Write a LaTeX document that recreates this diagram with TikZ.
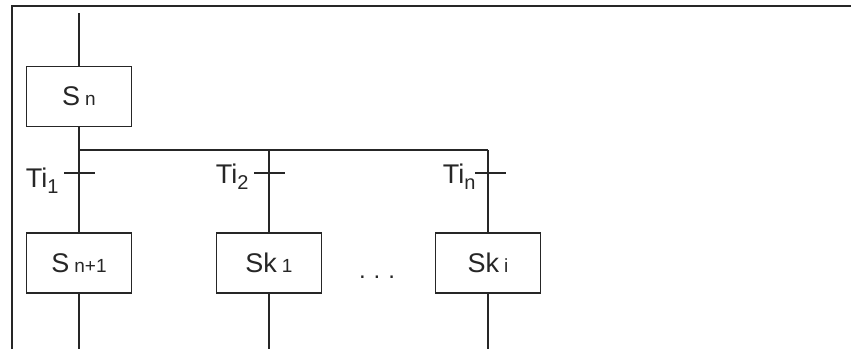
\documentclass[tikz,border=0pt]{standalone}
\usepackage{fontspec}
\setmainfont{Liberation Sans}
\usetikzlibrary{positioning}

% small index after a step name, lowered index after a transition name
\newcommand{\idx}[1]{\hspace{5pt}{\fontsize{19}{19}\selectfont #1}}
\newcommand{\tlow}[1]{\raisebox{-6pt}{\fontsize{20}{20}\selectfont #1}}

\begin{document}
\begin{tikzpicture}[x=1pt, y=-1pt, line width=1.2pt, color=black!85,
    stepbox/.style={draw, minimum width=105pt, minimum height=60pt, inner sep=0pt,
                    font=\fontsize{27}{30}\selectfont},
    trans/.style={font=\fontsize{27}{30}\selectfont, inner sep=0pt, anchor=base east}]
            \useasboundingbox (0,0) rectangle (851,349);
            \draw (12,349) |- (851,6);

            \node[stepbox] (sn)  at (79,96.5) {S\idx{n}};
            \node[stepbox] (sn1) at (79,263)  {S\idx{n+1}};
            \node[stepbox] (sk1) at (269,263) {Sk\idx{1}};
            \node[stepbox] (ski) at (488,263) {Sk\idx{i}};
            \node[font=\fontsize{24}{26}\selectfont] (dots) at (377,277) {.\,\,.\,\,.};

            \coordinate (top) at (79,13);
            \coordinate (bot) at (0,349);
            \coordinate (b1) at (79,150);
            \coordinate (b2) at (269,150);
            \coordinate (b3) at (488,150);
            \coordinate (t1) at (79,173);
            \coordinate (t2) at (269,173);
            \coordinate (t3) at (488,173);

            % main line and branches
            \draw (top) -- (sn);
            \draw (sn) -- (sn1);
            \draw (b1) -- (b3);
            \draw (b2) -- (sk1);
            \draw (b3) -- (ski);
            \draw (sn1) -- (sn1.south |- bot);
            \draw (sk1) -- (sk1.south |- bot);
            \draw (ski) -- (ski.south |- bot);

            % transitions
            \draw ([xshift=-15pt]t1) -- ([xshift=16pt]t1);
            \draw ([xshift=-15pt]t2) -- ([xshift=16pt]t2);
            \draw ([xshift=-13pt]t3) -- ([xshift=18pt]t3);
            \node[trans] (ti1) at (59,187) {Ti\tlow{1}};
            \node[trans] (ti2) at (249,183) {Ti\tlow{2}};
            \node[trans] (tin) at (476,183) {Ti\tlow{n}};
\end{tikzpicture}
\end{document}
